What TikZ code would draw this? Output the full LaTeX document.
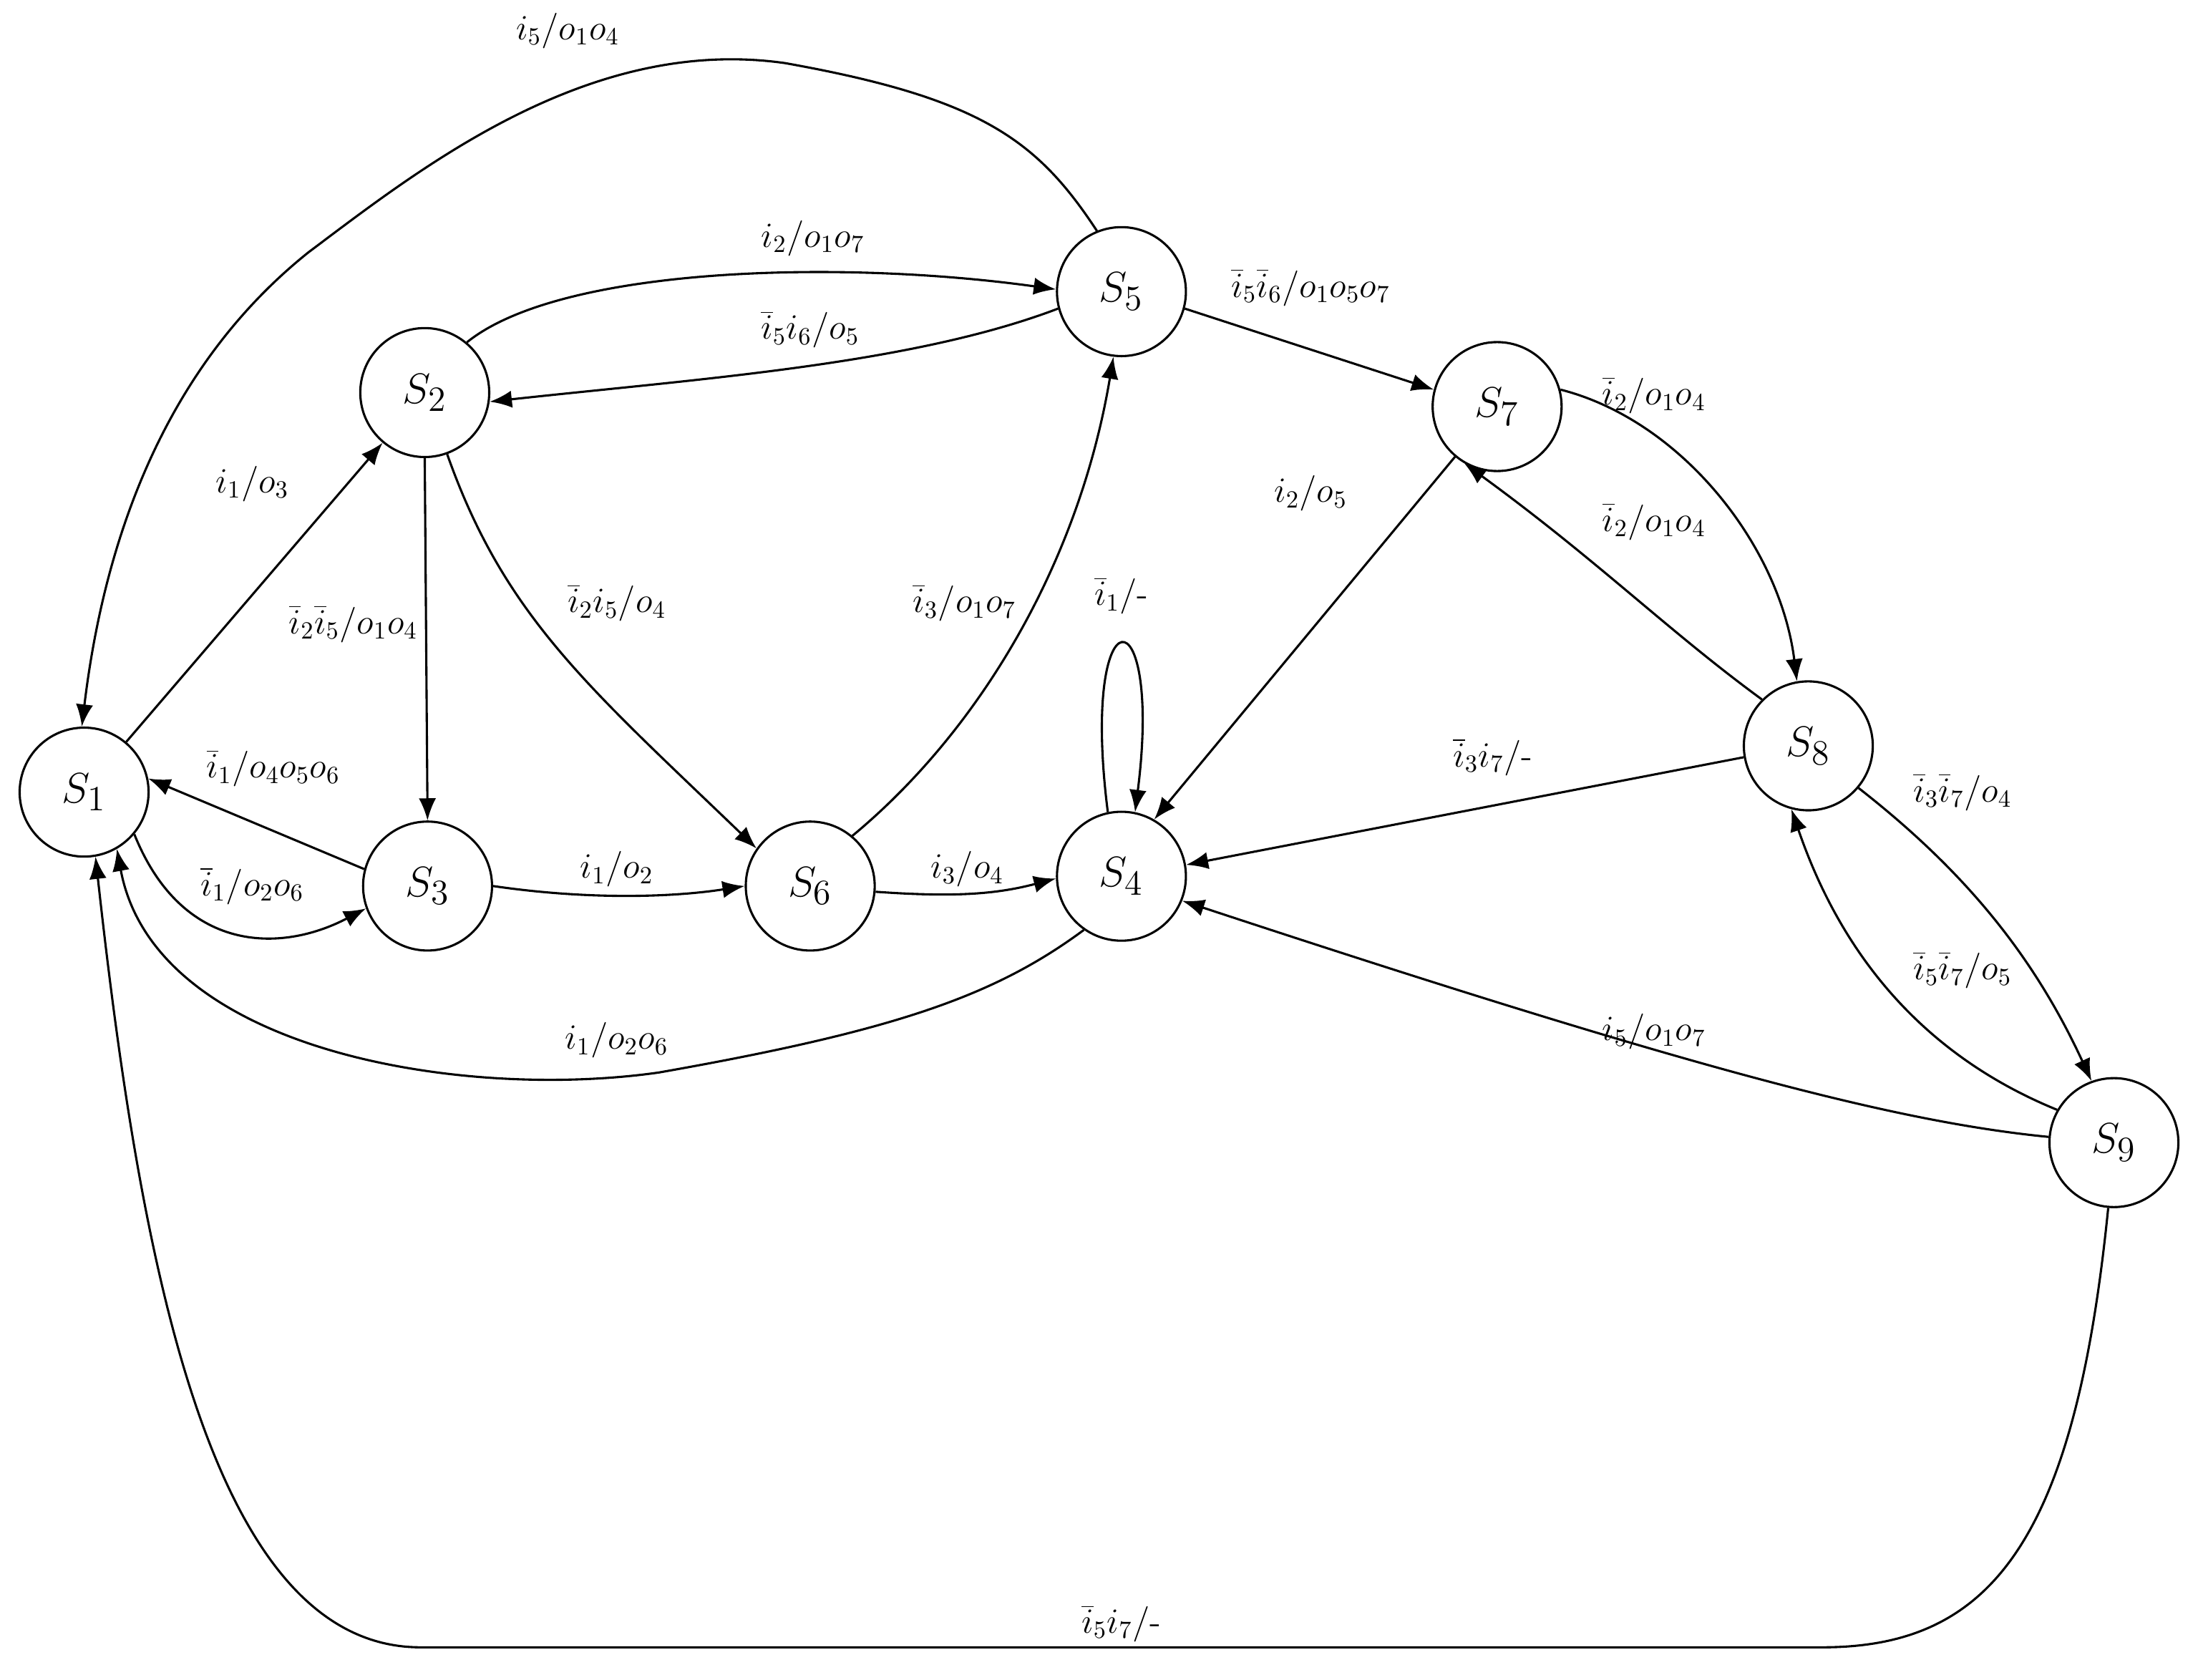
\documentclass[tikz,border=0pt]{standalone}
\usetikzlibrary{arrows.meta}
\newcommand{\nb}[1]{\overline{i}_{#1}}
\begin{document}
\begin{tikzpicture}[x=0.02cm,y=-0.02cm,
  st/.style={circle,draw,line width=0.9pt,minimum size=1.84cm,inner sep=0pt,font=\fontsize{19}{22}\selectfont},
  ed/.style={line width=0.9pt,-{Latex[length=9pt,width=7pt]}},
  lb/.style={font=\fontsize{14}{16}\selectfont,inner sep=1pt}]
\useasboundingbox (0,0) rectangle (1568,1198);
\node[st] (s1) at (60,565) {$S_1$};
\node[st] (s2) at (303,280) {$S_2$};
\node[st] (s3) at (305,632) {$S_3$};
\node[st] (s5) at (800,208) {$S_5$};
\node[st] (s6) at (578,632) {$S_6$};
\node[st] (s4) at (800,625) {$S_4$};
\node[st] (s7) at (1068,290) {$S_7$};
\node[st] (s8) at (1290,532) {$S_8$};
\node[st] (s9) at (1508,815) {$S_9$};
% edges
\draw[ed] (s5.112) .. controls (740,100) and (700,70) .. (560,45) .. controls (420,25) and (300,120) .. (220,180) .. controls (120,260) and (75,380) .. (s1.92);
\draw[ed] (s2.50) .. controls (400,190) and (600,185) .. (s5.178);
\draw[ed] (s5.195) .. controls (650,260) and (500,270) .. (s2.352);
\draw[ed] (s1.50) -- (s2.230);
\draw[ed] (s2.270) -- (s3.90);
\draw[ed] (s2.290) .. controls (360,440) and (420,490) .. (s6.145);
\draw[ed] (s6.50) .. controls (700,520) and (770,400) .. (s5.263);
\draw[ed] (s3.165) -- (s1.12);
\draw[ed] (s1.320) .. controls (130,680) and (200,680) .. (s3.200);
\draw[ed] (s3.0) .. controls (420,642) and (480,640) .. (s6.180);
\draw[ed] (s6.355) .. controls (680,640) and (710,638) .. (s4.182);
\draw[ed] (s4.102) .. controls (770,420) and (830,420) .. (s4.78);
\draw[ed] (s4.235) .. controls (710,710) and (640,735) .. (470,765) .. controls (330,785) and (110,750) .. (s1.300);
\draw[ed] (s5.345) -- (s7.165);
\draw[ed] (s7.230) -- (s4.60);
\draw[ed] (s7.15) .. controls (1200,300) and (1270,390) .. (s8.100);
\draw[ed] (s8.135) .. controls (1190,450) and (1140,400) .. (s7.240);
\draw[ed] (s8.190) -- (s4.10);
\draw[ed] (s8.320) .. controls (1400,620) and (1450,680) .. (s9.110);
\draw[ed] (s9.150) .. controls (1390,760) and (1320,700) .. (s8.255);
\draw[ed] (s9.175) .. controls (1350,800) and (1200,760) .. (s4.338);
\draw[ed] (s9.265) .. controls (1480,1100) and (1420,1175) .. (1300,1175) -- (300,1175) .. controls (150,1175) and (100,900) .. (s1.280);
% labels
\node[lb] (l1) at (405,22) {$i_5/o_1o_4$};
\node[lb] (l2) at (580,170) {$i_2/o_1o_7$};
\node[lb] (l3) at (578,235) {$\nb5 i_6/o_5$};
\node[lb] (l4) at (180,345) {$i_1/o_3$};
\node[lb] (l5) at (252,445) {$\nb2\nb5/o_1o_4$};
\node[lb] (l6) at (440,430) {$\nb2 i_5/o_4$};
\node[lb] (l7) at (688,430) {$\nb3/o_1o_7$};
\node[lb] (l8) at (195,548) {$\nb1/o_4o_5o_6$};
\node[lb] (l9) at (180,632) {$\nb1/o_2o_6$};
\node[lb] (l10) at (440,620) {$i_1/o_2$};
\node[lb] (l11) at (690,620) {$i_3/o_4$};
\node[lb] (l12) at (800,425) {$\nb1/$-};
\node[lb] (l13) at (440,742) {$i_1/o_2o_6$};
\node[lb] (l14) at (935,205) {$\nb5\nb6/o_1o_5o_7$};
\node[lb] (l15) at (935,352) {$i_2/o_5$};
\node[lb] (l16) at (1180,282) {$\nb2/o_1o_4$};
\node[lb] (l17) at (1180,372) {$\nb2/o_1o_4$};
\node[lb] (l18) at (1065,540) {$\nb3 i_7/$-};
\node[lb] (l19) at (1400,565) {$\nb3\nb7/o_4$};
\node[lb] (l20) at (1400,692) {$\nb5\nb7/o_5$};
\node[lb] (l21) at (1180,736) {$i_5/o_1o_7$};
\node[lb] (l22) at (800,1158) {$\nb5 i_7/$-};
\end{tikzpicture}
\end{document}
